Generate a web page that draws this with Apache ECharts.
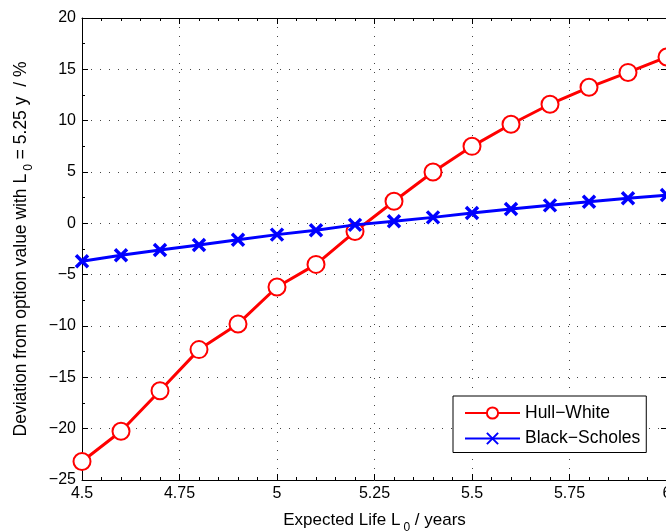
<!DOCTYPE html>
<html>
<head>
<meta charset="utf-8">
<script src="https://cdn.jsdelivr.net/npm/echarts@6/dist/echarts.min.js"></script>
<style>html,body{margin:0;padding:0;background:#fff}#c{width:666px;height:531px}</style>
</head>
<body>
<div id="c"></div>
<script>
var xValues = [4.5, 4.6, 4.7, 4.8, 4.9, 5.0, 5.1, 5.2, 5.3, 5.4, 5.5, 5.6, 5.7, 5.8, 5.9, 6.0];
var hullWhite = [-23.2, -20.25, -16.3, -12.3, -9.8, -6.2, -4.0, -0.8, 2.15, 5.0, 7.5, 9.65, 11.6, 13.25, 14.7, 16.2];
var blackScholes = [-3.7, -3.1, -2.6, -2.1, -1.6, -1.1, -0.68, -0.15, 0.2, 0.58, 1.0, 1.4, 1.75, 2.1, 2.45, 2.75];
var xTicks = [4.5, 4.75, 5, 5.25, 5.5, 5.75, 6];
var yTicks = [-25, -20, -15, -10, -5, 0, 5, 10, 15, 20];

var FONT = "'Liberation Sans', Arial, Helvetica, sans-serif";
function fmt(v) { return String(v).replace('-', '\u2212'); }
function pairs(ys) { return xValues.map(function (x, i) { return [x, ys[i]]; }); }

var chart = echarts.init(document.getElementById('c'), null, { renderer: 'canvas' });
var axisLineStyle = { color: '#000', width: 1 };
var split = { show: true, lineStyle: { color: '#444', type: [1, 8], width: 1 } };
function subRich(sz) { return { sub: { fontSize: sz, verticalAlign: 'bottom', padding: [0, 0, -5, 3], color: '#000', fontFamily: FONT } }; }

chart.setOption({
  backgroundColor: '#fff',
  animation: false,
  textStyle: { fontFamily: FONT },
  grid: { left: 82, top: 18, width: 585, height: 462, containLabel: false, outerBoundsMode: 'none' },
  xAxis: [{
    type: 'value', min: 4.5, max: 6, interval: 0.25, position: 'bottom',
    axisLine: { show: true, onZero: false, lineStyle: axisLineStyle },
    axisTick: { show: true, inside: true, length: 6, lineStyle: axisLineStyle },
    minorTick: { show: true, splitNumber: 5, length: 3, lineStyle: axisLineStyle },
    splitLine: split,
    axisLabel: { color: '#000', fontSize: 16, fontFamily: FONT, margin: 6,
      formatter: function (v) { return xTicks.indexOf(+v.toFixed(2)) >= 0 ? fmt(+v.toFixed(2)) : ''; } },
    name: 'Expected Life L{sub|0} / years',
    nameLocation: 'middle', nameGap: 32,
    nameTextStyle: { color: '#000', fontSize: 17, fontFamily: FONT, rich: subRich(12) }
  }, {
    type: 'value', min: 4.5, max: 6, interval: 0.25, position: 'top',
    axisLine: { show: true, onZero: false, lineStyle: axisLineStyle },
    axisTick: { show: true, inside: true, length: 6, lineStyle: axisLineStyle },
    minorTick: { show: true, splitNumber: 5, length: 3, lineStyle: axisLineStyle },
    splitLine: { show: false }, axisLabel: { show: false }
  }],
  yAxis: [{
    type: 'value', min: -25, max: 20, interval: 5, position: 'left',
    axisLine: { show: true, onZero: false, lineStyle: axisLineStyle },
    axisTick: { show: true, inside: true, length: 6, lineStyle: axisLineStyle },
    minorTick: { show: true, splitNumber: 2, length: 3, lineStyle: axisLineStyle },
    splitLine: split,
    axisLabel: { color: '#000', fontSize: 16, fontFamily: FONT, margin: 6,
      formatter: function (v) { return fmt(v); } },
    name: 'Deviation from option value with L{sub|0} = 5.25 y  / %',
    nameLocation: 'middle', nameGap: 52, nameRotate: 90,
    nameTextStyle: { color: '#000', fontSize: 17.5, fontFamily: FONT, rich: subRich(12) }
  }, {
    type: 'value', min: -25, max: 20, interval: 5, position: 'right',
    axisLine: { show: true, onZero: false, lineStyle: axisLineStyle },
    axisTick: { show: true, inside: true, length: 6, lineStyle: axisLineStyle },
    splitLine: { show: false }, axisLabel: { show: false }
  }],
  legend: {
    left: 453, top: 396, orient: 'vertical',
    backgroundColor: '#fff', borderColor: '#000', borderWidth: 1,
    padding: [8, 6, 5, 11], itemGap: 7.5, itemWidth: 55, itemHeight: 14,
    textStyle: { color: '#000', fontSize: 17.5, fontFamily: FONT },
    data: ['Hull\u2212White', 'Black\u2212Scholes']
  },
  series: [{
    name: 'Hull\u2212White', type: 'line', xAxisIndex: 0, yAxisIndex: 0,
    data: pairs(hullWhite),
    symbol: 'emptyCircle', symbolSize: 17,
    lineStyle: { color: '#ff0000', width: 3 },
    itemStyle: { color: '#ff0000', borderColor: '#ff0000', borderWidth: 3 },
    z: 3
  }, {
    name: 'Black\u2212Scholes', type: 'line', xAxisIndex: 0, yAxisIndex: 0,
    data: pairs(blackScholes),
    symbol: 'path://M0,0L10,10M10,0L0,10', symbolSize: 12,
    lineStyle: { color: '#0000ff', width: 3 },
    itemStyle: { color: '#0000ff', borderColor: '#0000ff', borderWidth: 3.5 },
    z: 4
  }]
});
</script>
</body>
</html>
